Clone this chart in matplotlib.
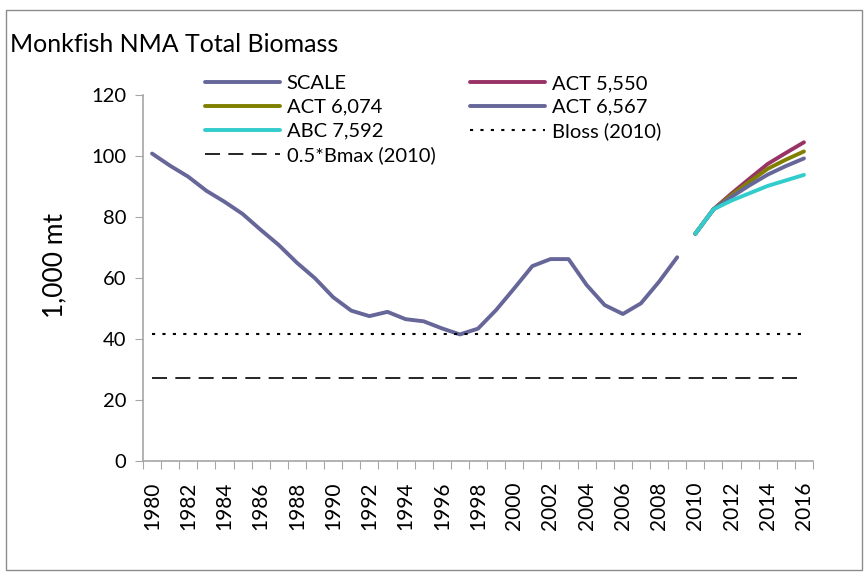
import matplotlib
matplotlib.use("Agg")
import matplotlib.pyplot as plt
from matplotlib.patches import Rectangle

plt.rcParams['font.family'] = ['Lato', 'DejaVu Sans']

years = list(range(1980, 2017))
hist_years = list(range(1980, 2010))
proj_years = list(range(2010, 2017))

scale = [100.8, 96.8, 93.2, 88.6, 85.0, 81.0, 75.8, 70.8, 65.0, 59.9,
         53.7, 49.3, 47.5, 48.9, 46.5, 45.8, 43.5, 41.5, 43.4, 49.5,
         56.6, 63.9, 66.2, 66.2, 57.7, 51.1, 48.2, 51.7, 58.8, 66.8]
act5550 = [74.5, 82.5, 87.7, 92.6, 97.4, 101.0, 104.5]
act6074 = [74.5, 82.5, 87.2, 91.6, 95.8, 98.8, 101.5]
act6567 = [74.5, 82.5, 86.6, 90.4, 93.9, 96.7, 99.2]
abc7592 = [74.5, 82.5, 85.4, 87.8, 90.2, 92.0, 93.8]
bloss = 41.5
half_bmax = 27.2

title = "Monkfish NMA Total Biomass"
ylabel = "1,000 mt"
yticks = [0, 20, 40, 60, 80, 100, 120]

c_purple = "#666699"
c_magenta = "#993366"
c_olive = "#808000"
c_cyan = "#33CCCC"
axis_gray = "#A6A6A6"

W, H = 864, 573
fig = plt.figure(figsize=(W / 100, H / 100), dpi=100)
fig.patches.append(Rectangle((6 / W, 1 - 570 / H), 856 / W, 560 / H,
                             transform=fig.transFigure, fill=False,
                             edgecolor="#8C8C8C", linewidth=1.0))

ax = fig.add_axes([143 / W, 1 - 461 / H, (813 - 143) / W, (461 - 95) / H])

idx = {y: i for i, y in enumerate(years)}
hx = [idx[y] for y in hist_years]
px = [idx[y] for y in proj_years]
ax_all = [idx[y] for y in years]

lw = 2.8
l_scale, = ax.plot(hx, scale, color=c_purple, lw=lw, label="SCALE", solid_capstyle='round')
l_5550, = ax.plot(px, act5550, color=c_magenta, lw=lw, label="ACT 5,550", solid_capstyle='round')
l_6074, = ax.plot(px, act6074, color=c_olive, lw=lw, label="ACT 6,074", solid_capstyle='round')
l_6567, = ax.plot(px, act6567, color=c_purple, lw=lw, label="ACT 6,567", solid_capstyle='round')
l_abc, = ax.plot(px, abc7592, color=c_cyan, lw=lw, label="ABC 7,592", solid_capstyle='round')
l_bloss, = ax.plot(ax_all, [bloss] * len(years), color="black", lw=1.5,
                   linestyle=(0, (1.5, 3.5)), label="Bloss (2010)")
l_bmax, = ax.plot(ax_all, [half_bmax] * len(years), color="black", lw=1.2,
                  linestyle=(0, (9, 5)), label="0.5*Bmax (2010)")

ax.set_xlim(-0.5, len(years) - 0.5)
ax.set_ylim(0, 120)
ax.set_yticks(yticks)
ax.tick_params(axis='y', direction='out', length=6, color=axis_gray, labelsize=14.5, pad=6)

# category boundaries as major ticks, labels as minor ticks
ax.set_xticks([i - 0.5 for i in range(len(years) + 1)])
ax.set_xticklabels([])
ax.tick_params(axis='x', which='major', direction='out', length=6, color=axis_gray)
lab_years = years[::2]
ax.set_xticks([idx[y] for y in lab_years], minor=True)
ax.set_xticklabels([str(y) for y in lab_years], minor=True, rotation=90)
ax.tick_params(axis='x', which='minor', length=0, labelsize=15, pad=15)

for s in ['top', 'right']:
    ax.spines[s].set_visible(False)
for s in ['left', 'bottom']:
    ax.spines[s].set_color(axis_gray)
    ax.spines[s].set_linewidth(1.2)

fig.text(55 / W, 1 - 265 / H, ylabel, fontsize=19, rotation=90, va='center', ha='center')
fig.text(10 / W, 1 - 45 / H, title, fontsize=18, va='center', ha='left')

leg_kw = dict(frameon=False, fontsize=14.5, handlelength=3.7, handletextpad=0.35,
              labelspacing=0.33, borderpad=0, borderaxespad=0, loc='upper left',
              bbox_transform=fig.transFigure)
leg1 = ax.legend([l_scale, l_6074, l_abc, l_bmax],
                 [l.get_label() for l in [l_scale, l_6074, l_abc, l_bmax]],
                 bbox_to_anchor=(205 / W, 1 - 75 / H), **leg_kw)
ax.add_artist(leg1)
leg2 = ax.legend([l_5550, l_6567, l_bloss],
                 [l.get_label() for l in [l_5550, l_6567, l_bloss]],
                 bbox_to_anchor=(470 / W, 1 - 75 / H), **leg_kw)

fig.savefig("out.png", dpi=100)
